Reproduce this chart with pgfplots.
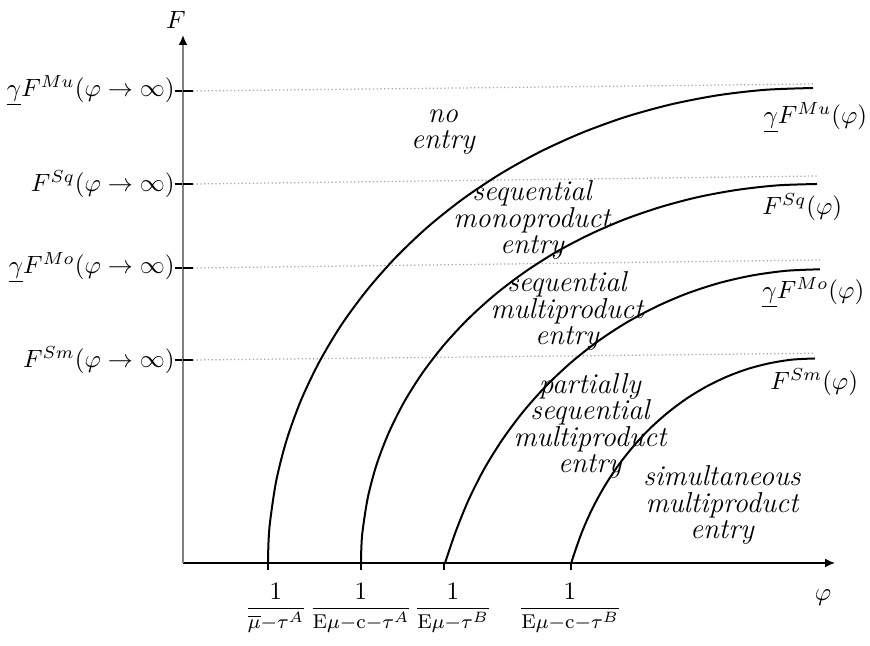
\documentclass[border=0pt]{standalone}
\usepackage{amsmath}
\usepackage{pgfplots}
\pgfplotsset{compat=1.18}
\usetikzlibrary{arrows.meta}

\begin{document}
\begin{tikzpicture}
\begin{axis}[
    scale only axis,
    width=260.8pt, height=211.2pt,
    xmin=0, xmax=652, ymin=0, ymax=528,
    axis lines=left,
    x axis line style={black, line width=0.6pt, -{Latex[length=4pt,width=3.6pt]}},
    y axis line style={draw=gray, line width=0.7pt, -{Latex[length=4pt,width=3.6pt,color=black]}},
    xtick={85,178,261,388}, xticklabels={},
    ytick={203,295,379,472}, yticklabels={},
    tick align=outside, major tick length=3pt,
    tick style={black, line width=0.8pt},
    clip=false,
]
% bounding box of the whole figure
\path (axis cs:-183,-83) rectangle (axis cs:687,563);

% inner part of the y ticks
\addplot[black, line width=0.8pt] coordinates {(0,203)(10,203)};
\addplot[black, line width=0.8pt] coordinates {(0,295)(10,295)};
\addplot[black, line width=0.8pt] coordinates {(0,379)(10,379)};
\addplot[black, line width=0.8pt] coordinates {(0,472)(10,472)};

% asymptotes
\addplot[gray!70, densely dotted, line width=0.5pt] coordinates {(10,472)(630,479)};
\addplot[gray!70, densely dotted, line width=0.5pt] coordinates {(10,379)(634,387)};
\addplot[gray!70, densely dotted, line width=0.5pt] coordinates {(10,295)(640,303)};
\addplot[gray!70, densely dotted, line width=0.5pt] coordinates {(10,203)(630,209.7)};

% gamma F^Mu
\addplot[black, line width=0.8pt, smooth] coordinates {
    (85,0)(85.5,20.7)(87.1,41.4)(93.3,82.5)(103.6,122.9)(117.9,162.5)
    (136.1,200.7)(158.0,237.5)(183.6,272.4)(212.5,305.3)(244.6,335.9)
    (279.7,363.9)(317.4,389.1)(357.5,411.4)(399.7,430.5)(443.6,446.4)
    (488.9,458.8)(535.4,467.8)(582.5,473.2)(630,475)};
% F^Sq
\addplot[black, line width=0.8pt, smooth] coordinates {
    (178,0)(178.4,16.5)(179.7,33.0)(184.9,65.8)(193.5,98.1)(205.5,129.6)
    (220.7,160.2)(239.1,189.5)(260.5,217.4)(284.7,243.6)(311.6,268.0)
    (340.9,290.3)(372.4,310.5)(406,328.2)(441.3,343.5)(478,356.1)
    (516,366.1)(554.8,373.2)(594.3,377.6)(634,379)};
% gamma F^Mo
\addplot[black, line width=0.8pt, smooth] coordinates {
    (262,0)(272.4,30.5)(285.4,62.7)(301.0,93.7)(319.2,123.1)(339.8,150.8)
    (362.6,176.5)(387.6,200.1)(414.5,221.4)(443,240.1)(473,256.2)
    (504.3,269.6)(536.6,280.1)(569.6,287.6)(603.2,292.2)(637,293.7)};
% F^Sm
\addplot[black, line width=0.8pt, smooth] coordinates {
    (388.4,0)(390.5,7.1)(399.1,31.3)(409.4,54.5)(421.5,76.6)(435.1,97.3)
    (450.3,116.6)(466.8,134.3)(484.6,150.2)(503.5,164.3)(523.4,176.4)
    (544.1,186.4)(565.5,194.3)(587.4,199.9)(609.6,203.4)(632,204.5)};

% y tick labels
\node[anchor=east, inner sep=0pt] at (axis cs:-8,203) {$F^{Sm}(\varphi\to\infty)$};
\node[anchor=east, inner sep=0pt] at (axis cs:-8,295) {$\underline{\gamma}F^{Mo}(\varphi\to\infty)$};
\node[anchor=east, inner sep=0pt] at (axis cs:-8,379) {$F^{Sq}(\varphi\to\infty)$};
\node[anchor=east, inner sep=0pt] at (axis cs:-8,472) {$\underline{\gamma}F^{Mu}(\varphi\to\infty)$};

% regions
\tikzset{region/.style={align=center, inner sep=0pt,
    font=\itshape\fontsize{11.5}{10.6}\selectfont}}
\node[region] at (axis cs:260,431) {no\\entry};
\node[region] at (axis cs:349,343) {sequential\\monoproduct\\entry};
\node[region] at (axis cs:384,252) {sequential\\multiproduct\\entry};
\node[region] at (axis cs:407,137) {partially\\sequential\\multiproduct\\entry};
\node[region] at (axis cs:539,58) {simultaneous\\multiproduct\\entry};

% curve names
\node[anchor=west, inner sep=0pt] at (axis cs:580,445) {$\underline{\gamma}F^{Mu}(\varphi)$};
\node[anchor=west, inner sep=0pt] at (axis cs:579,356) {$F^{Sq}(\varphi)$};
\node[anchor=west, inner sep=0pt] at (axis cs:579,270) {$\underline{\gamma}F^{Mo}(\varphi)$};
\node[anchor=west, inner sep=0pt] at (axis cs:587,181) {$F^{Sm}(\varphi)$};

% x tick labels
\tikzset{xlab/.style={anchor=north, inner sep=0pt, font=\fontsize{8}{10}\selectfont}}
\node[xlab] at (axis cs:93,-19) {$\dfrac{\mbox{\normalsize 1}}{\overline{\mu}{-}\tau^{A}}$};
\node[xlab] at (axis cs:178,-19) {$\dfrac{\mbox{\normalsize 1}}{\mathrm{E}\mu{-}\mathrm{c}{-}\tau^{A}}$};
\node[xlab] at (axis cs:270,-19) {$\dfrac{\mbox{\normalsize 1}}{\mathrm{E}\mu{-}\tau^{B}}$};
\node[xlab] at (axis cs:387,-19) {$\dfrac{\mbox{\normalsize 1}}{\mathrm{E}\mu{-}\mathrm{c}{-}\tau^{B}}$};

% axis names
\node at (axis cs:-7,543) {$F$};
\node at (axis cs:640,-35) {$\varphi$};
\end{axis}
\end{tikzpicture}
\end{document}
